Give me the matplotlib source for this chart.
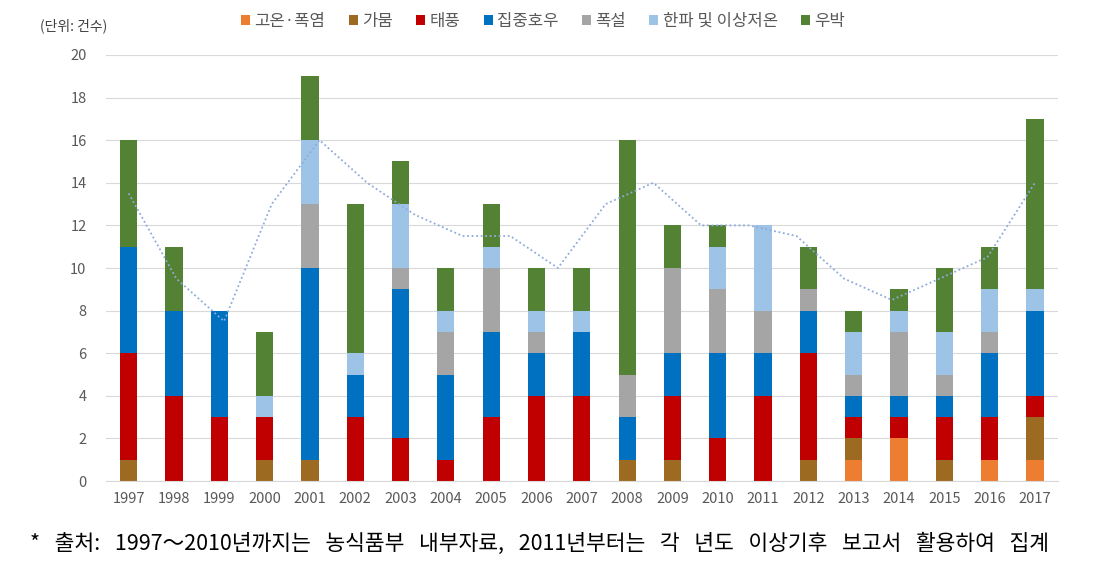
import matplotlib.pyplot as plt
import numpy as np

plt.rcParams['font.family'] = ['Noto Sans CJK KR', 'DejaVu Sans']

# 데이터
years = ['1997', '1998', '1999', '2000', '2001', '2002', '2003', '2004', '2005', '2006', '2007',
         '2008', '2009', '2010', '2011', '2012', '2013', '2014', '2015', '2016', '2017']
heat = [0, 0, 0, 0, 0, 0, 0, 0, 0, 0, 0, 0, 0, 0, 0, 0, 1, 2, 0, 1, 1]
drought = [1, 0, 0, 1, 1, 0, 0, 0, 0, 0, 0, 1, 1, 0, 0, 1, 1, 0, 1, 0, 2]
typhoon = [5, 4, 3, 2, 0, 3, 2, 1, 3, 4, 4, 0, 3, 2, 4, 5, 1, 1, 2, 2, 1]
rain = [5, 4, 5, 0, 9, 2, 7, 4, 4, 2, 3, 2, 2, 4, 2, 2, 1, 1, 1, 3, 4]
snow = [0, 0, 0, 0, 3, 0, 1, 2, 3, 1, 0, 2, 4, 3, 2, 1, 1, 3, 1, 1, 0]
cold = [0, 0, 0, 1, 3, 1, 3, 1, 1, 1, 1, 0, 0, 2, 4, 0, 2, 1, 2, 2, 1]
hail = [5, 3, 0, 3, 3, 7, 2, 2, 2, 2, 2, 11, 2, 1, 0, 2, 1, 1, 3, 2, 8]

series = [heat, drought, typhoon, rain, snow, cold, hail]
labels = ['고온·폭염', '가뭄', '태풍', '집중호우', '폭설', '한파 및 이상저온', '우박']
colors = ['#ED7D31', '#9C6B21', '#C00000', '#0070C0', '#A5A5A5', '#9DC3E6', '#548235']

x = np.arange(len(years))
fig = plt.figure(figsize=(11.04, 5.66), dpi=100)
ax = fig.add_axes([0.096, 0.150, 0.862, 0.753])

bottom = np.zeros(len(years))
for vals, lab, col in zip(series, labels, colors):
    ax.bar(x, vals, 0.38, bottom=bottom, color=col, label=lab, zorder=2)
    bottom += np.array(vals)

# 2구간 이동평균 추세선
total = bottom
ma = (total[:-1] + total[1:]) / 2
ax.plot(np.linspace(0, len(years) - 1, len(ma)), ma, color='#8FAADC', linestyle=(0, (1, 1.5)),
        linewidth=1.3, zorder=3)

ax.set_xlim(-0.5, len(years) - 0.5)
ax.set_ylim(0, 20)
ax.set_yticks(range(0, 21, 2))
ax.set_xticks(x)
ax.set_xticklabels(years)
ax.tick_params(axis='both', length=0, colors='#595959', labelsize=10.5)
ax.tick_params(axis='y', pad=14)
ax.tick_params(axis='x', pad=8)
ax.grid(axis='y', color='#D9D9D9', linewidth=0.8, zorder=0)
for s in ['top', 'right', 'left']:
    ax.spines[s].set_visible(False)
ax.spines['bottom'].set_color('#D9D9D9')

fig.text(0.036, 0.955, '(단위: 건수)', fontsize=10, color='#404040', va='center')
fig.legend(loc='center', bbox_to_anchor=(0.492, 0.962), ncol=7, frameon=False, fontsize=12,
           handlelength=0.55, handleheight=0.55, handletextpad=0.25, columnspacing=1.4,
           labelcolor='#595959')
fig.text(0.027, 0.040, '*   출처:   1997～2010년까지는   농식품부   내부자료,   2011년부터는   각   년도   이상기후   보고서   활용하여   집계',
         fontsize=15.5, color='black', va='center')

fig.savefig('out.png', dpi=100)
